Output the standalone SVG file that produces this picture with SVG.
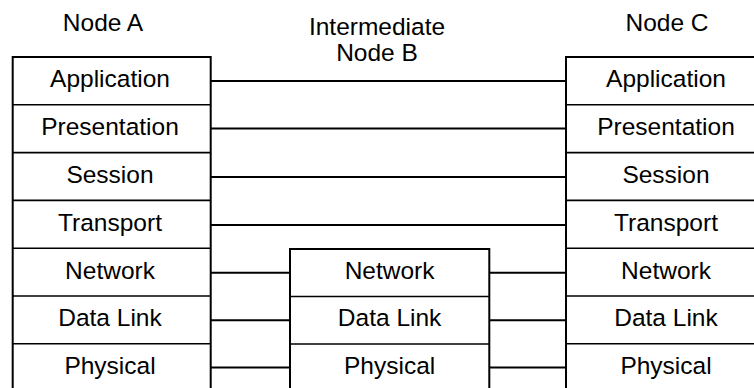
<svg xmlns="http://www.w3.org/2000/svg" width="754" height="388" viewBox="0 0 754 388">
  <style>
    .box { fill: #ffffff; stroke: #000000; stroke-width: 2; }
    .div { stroke: #000000; stroke-width: 1.6; }
    .link { stroke: #000000; stroke-width: 2; fill: none; }
    text { font-family: "Liberation Sans", Arial, sans-serif; font-size: 24.5px; fill: #000000; text-anchor: middle; }
  </style>
  <rect width="754" height="388" fill="#ffffff"/>

  <!-- Node A: full seven-layer stack -->
  <g id="node-a">
    <text x="103" y="31">Node A</text>
    <rect class="box" x="12.7" y="57" width="198" height="340"/>
    <line class="div" x1="12.7" y1="104.8" x2="210.7" y2="104.8"/>
    <line class="div" x1="12.7" y1="152.6" x2="210.7" y2="152.6"/>
    <line class="div" x1="12.7" y1="200.4" x2="210.7" y2="200.4"/>
    <line class="div" x1="12.7" y1="248.2" x2="210.7" y2="248.2"/>
    <line class="div" x1="12.7" y1="296" x2="210.7" y2="296"/>
    <line class="div" x1="12.7" y1="343.8" x2="210.7" y2="343.8"/>
    <text x="110" y="87.4">Application</text>
    <text x="110" y="135.2">Presentation</text>
    <text x="110" y="183">Session</text>
    <text x="110" y="230.8">Transport</text>
    <text x="110" y="278.6">Network</text>
    <text x="110" y="326.4">Data Link</text>
    <text x="110" y="374.2">Physical</text>
  </g>

  <!-- Intermediate node B: lower three layers only -->
  <g id="node-b">
    <text x="377" y="34.5">Intermediate</text>
    <text x="377" y="61">Node B</text>
    <rect class="box" x="290" y="249" width="199.3" height="150"/>
    <line class="div" x1="290" y1="296.5" x2="489.3" y2="296.5"/>
    <line class="div" x1="290" y1="344" x2="489.3" y2="344"/>
    <text x="389.6" y="278.6">Network</text>
    <text x="389.6" y="326.4">Data Link</text>
    <text x="389.6" y="374.2">Physical</text>
  </g>

  <!-- Node C: full seven-layer stack -->
  <g id="node-c">
    <text x="667" y="31">Node C</text>
    <rect class="box" x="566" y="57" width="200" height="340"/>
    <line class="div" x1="566" y1="104.8" x2="766" y2="104.8"/>
    <line class="div" x1="566" y1="152.6" x2="766" y2="152.6"/>
    <line class="div" x1="566" y1="200.4" x2="766" y2="200.4"/>
    <line class="div" x1="566" y1="248.2" x2="766" y2="248.2"/>
    <line class="div" x1="566" y1="296" x2="766" y2="296"/>
    <line class="div" x1="566" y1="343.8" x2="766" y2="343.8"/>
    <text x="666" y="87.4">Application</text>
    <text x="666" y="135.2">Presentation</text>
    <text x="666" y="183">Session</text>
    <text x="666" y="230.8">Transport</text>
    <text x="666" y="278.6">Network</text>
    <text x="666" y="326.4">Data Link</text>
    <text x="666" y="374.2">Physical</text>
  </g>

  <!-- Peer-layer connectors -->
  <g id="connectors">
    <line class="link" x1="210.7" y1="81" x2="566" y2="81"/>
    <line class="link" x1="210.7" y1="128.5" x2="566" y2="128.5"/>
    <line class="link" x1="210.7" y1="177" x2="566" y2="177"/>
    <line class="link" x1="210.7" y1="225" x2="566" y2="225"/>
    <line class="link" x1="210.7" y1="272.8" x2="290" y2="272.8"/>
    <line class="link" x1="210.7" y1="320.2" x2="290" y2="320.2"/>
    <line class="link" x1="210.7" y1="367.5" x2="290" y2="367.5"/>
    <line class="link" x1="489.3" y1="272.8" x2="566" y2="272.8"/>
    <line class="link" x1="489.3" y1="320.2" x2="566" y2="320.2"/>
    <line class="link" x1="489.3" y1="367.5" x2="566" y2="367.5"/>
  </g>
</svg>
